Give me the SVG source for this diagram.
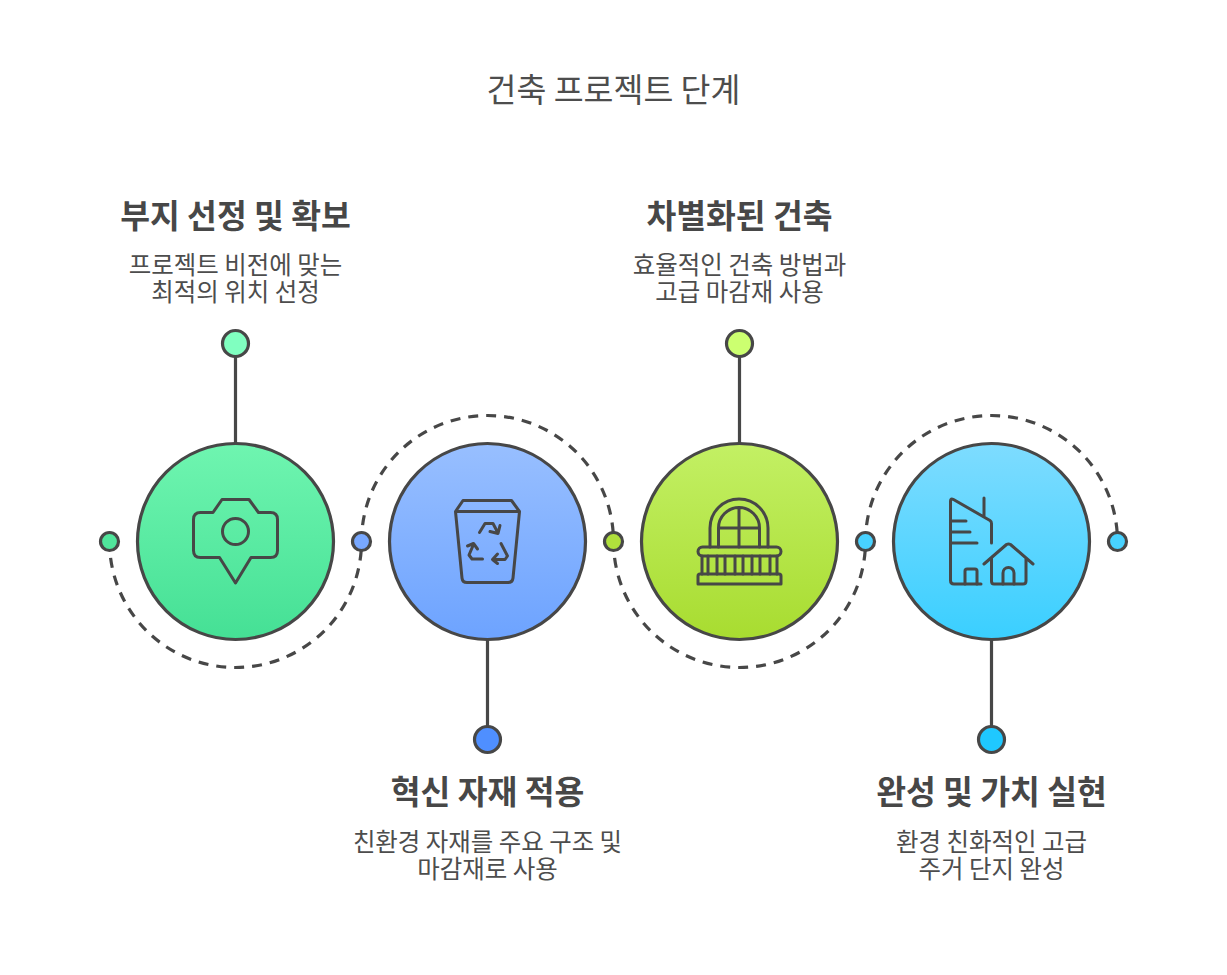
<svg xmlns="http://www.w3.org/2000/svg" width="1227" height="975" viewBox="0 0 1227 975">
<style>
text{font-family:"Noto Sans CJK KR","Noto Sans",sans-serif;fill:#4d4d4d;text-anchor:middle}
.t{font-size:32.5px}
.h{font-size:32.4px;font-weight:700;fill:#474747}
.b{font-size:24.45px}
.c{stroke:#474747;stroke-width:3.2}
.l{fill:none;stroke:#474747;stroke-width:3.2}
.d{fill:none;stroke:#474747;stroke-width:3.2;stroke-dasharray:10 8;stroke-dashoffset:1.5}
.i{fill:none;stroke:#474747;stroke-width:3;stroke-linecap:round;stroke-linejoin:round}
</style>
<defs>
<linearGradient id="g1" x1="0" y1="0" x2="0" y2="1"><stop offset="0" stop-color="#6ff5b0"/><stop offset="1" stop-color="#45e095"/></linearGradient>
<linearGradient id="g2" x1="0" y1="0" x2="0" y2="1"><stop offset="0" stop-color="#98bfff"/><stop offset="1" stop-color="#6da3ff"/></linearGradient>
<linearGradient id="g3" x1="0" y1="0" x2="0" y2="1"><stop offset="0" stop-color="#c3f064"/><stop offset="1" stop-color="#a8dc30"/></linearGradient>
<linearGradient id="g4" x1="0" y1="0" x2="0" y2="1"><stop offset="0" stop-color="#7edcff"/><stop offset="1" stop-color="#3acfff"/></linearGradient>
</defs>
<text id="title" class="t" x="613.5" y="101.500">건축 프로젝트 단계</text>
<g id="connectors">
<path class="d" d="M109.500 541.500A126 126 0 0 0 361.500 541.500"/>
<path class="d" d="M361.500 541.500A126 126 0 0 1 613.500 541.500"/>
<path class="d" d="M613.500 541.500A126 126 0 0 0 865.500 541.500"/>
<path class="d" d="M865.500 541.500A126 126 0 0 1 1117.500 541.500"/>
<path class="l" d="M235.500 356V443M739.500 356V443M487.500 640V727M991.500 640V727"/>
</g>
<g id="node1">
<circle class="c" cx="235.5" cy="541.5" r="98" fill="url(#g1)"/>
<circle class="c" cx="235.5" cy="343.5" r="13" fill="#80ffc0"/>
<circle class="c" cx="109.5" cy="541.5" r="9" fill="#50e59b"/>
<path class="i" d="M222 499.500H249L258.500 512.500H270.500Q277.500 512.500 277.500 519.500V550.500Q277.500 557.500 270.500 557.500H251L235.500 583L219.500 557.500H200.500Q193.500 557.500 193.500 550.500V519.500Q193.500 512.500 200.500 512.500H213Z"/>
<circle class="i" cx="235.500" cy="531.500" r="13"/>
<text class="h" x="235.500" y="227.500">부지 선정 및 확보</text>
<text class="b" x="235.500" y="274">프로젝트 비전에 맞는</text>
<text class="b" x="235.500" y="301">최적의 위치 선정</text>
</g>
<g id="node2">
<circle class="c" cx="487.5" cy="541.5" r="98" fill="url(#g2)"/>
<circle class="c" cx="487.5" cy="739.5" r="13" fill="#4f8fff"/>
<circle class="c" cx="361.5" cy="541.5" r="9" fill="#78a8ff"/>
<path class="i" d="M455.500 511.500L463 500.500H511.500L519.500 511.500L513 578Q512.500 582.500 508 582.500H467Q462.500 582.500 462 578ZM455.500 511.500H519.500"/>
<path class="i" d="M479.500 532.500L485 523.500H493L498 533M490 531.500L498 533.500L500 525.500"/>
<path class="i" d="M501 543.500L507.500 556L505 559.500H493.500M497.500 554L492.500 559.500L497.500 563.500"/>
<path class="i" d="M482.500 559H472L469 555L473.500 544.500M467.500 546L473.500 543.500L477.500 549"/>
<text class="h" x="487.500" y="803.500">혁신 자재 적용</text>
<text class="b" x="487.500" y="851">친환경 자재를 주요 구조 및</text>
<text class="b" x="487.500" y="878">마감재로 사용</text>
</g>
<g id="node3">
<circle class="c" cx="739.5" cy="541.5" r="98" fill="url(#g3)"/>
<circle class="c" cx="739.5" cy="343.5" r="13" fill="#ccff70"/>
<circle class="c" cx="613.5" cy="541.5" r="9" fill="#b0e03c"/>
<path class="i" d="M710 547V528A29 29 0 0 1 768 528V547"/>
<path class="i" d="M718.500 547V528A20.500 20.500 0 0 1 759.500 528V547M739 507.500V547M718.500 528H759.500"/>
<rect class="i" x="698" y="547" width="83" height="9" rx="4.500"/>
<path class="i" d="M702 556V574M708 556V574M717 556V574M725 556V574M735 556V574M743 556V574M752 556V574M760 556V574M770 556V574M777 556V574"/>
<path class="i" d="M698 584V576Q698 574 700 574H779Q781 574 781 576V584Z"/>
<text class="h" x="739.500" y="227.500">차별화된 건축</text>
<text class="b" x="739.500" y="274">효율적인 건축 방법과</text>
<text class="b" x="739.500" y="301">고급 마감재 사용</text>
</g>
<g id="node4">
<circle class="c" cx="991.5" cy="541.5" r="98" fill="url(#g4)"/>
<circle class="c" cx="991.5" cy="739.500" r="13" fill="#1fc8ff"/>
<circle class="c" cx="865.5" cy="541.5" r="9" fill="#48d2ff"/>
<circle class="c" cx="1117.5" cy="541.5" r="9" fill="#48d2ff"/>
<path class="i" d="M981 584H954Q950.500 584 950.500 580.500V501Q950.500 498 953.500 499.500L990 520.500Q991.500 521.500 991.500 523.500V543M984 498V516M951 521H966M951 532H970M951 543H977"/>
<path class="i" d="M984 564L1006.500 544.500Q1008.500 543.500 1010.500 544.500L1033 564M991.500 558V581Q991.500 584 994 584H1023Q1026 584 1026 581V558"/>
<path class="i" d="M1003 584V573A5.500 5.500 0 0 1 1014 573V584"/>
<path class="i" d="M965 584V571Q965 569 967 569H975Q977 569 977 571V584"/>
<text class="h" x="991.500" y="803.500">완성 및 가치 실현</text>
<text class="b" x="991.500" y="851">환경 친화적인 고급</text>
<text class="b" x="991.500" y="878">주거 단지 완성</text>
</g>
</svg>
